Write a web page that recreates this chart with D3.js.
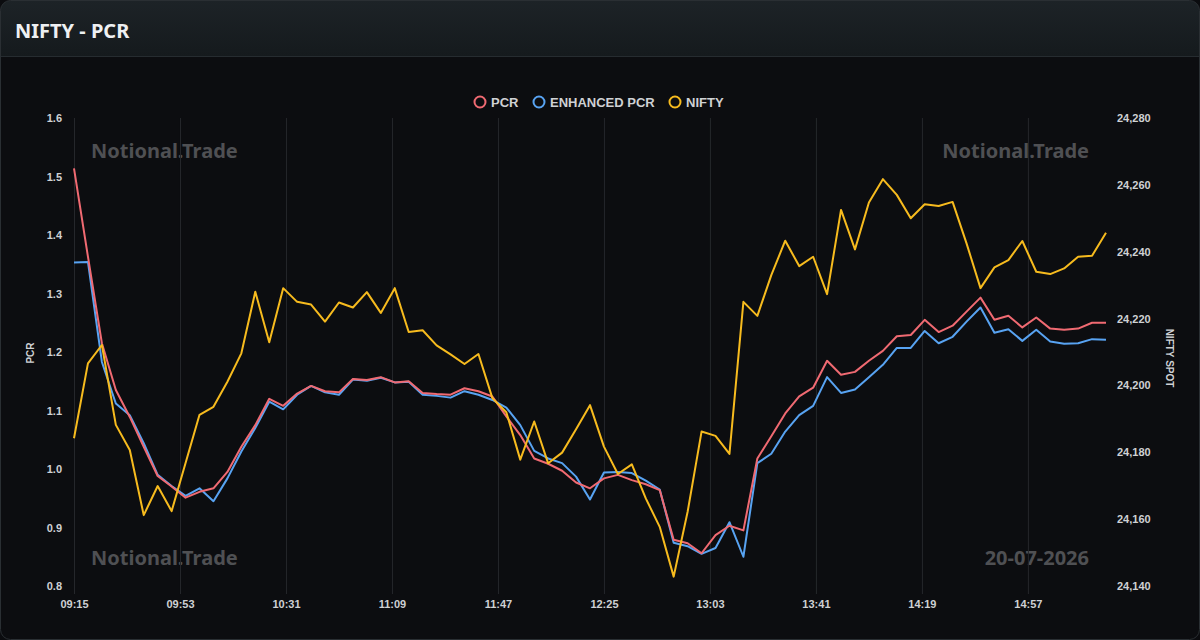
<!DOCTYPE html>
<html>
<head>
<meta charset="utf-8">
<script src="https://cdn.jsdelivr.net/npm/d3@7/dist/d3.min.js"></script>
<style>
  html, body { margin: 0; padding: 0; background: #0b0c0f; }
  svg { display: block; }
</style>
</head>
<body>
<script>
// times every 5 minutes, 09:15 -> 15:25
var times = ["09:15","09:20","09:25","09:30","09:35","09:40","09:45","09:50","09:55","10:00",
  "10:05","10:10","10:15","10:20","10:25","10:30","10:35","10:40","10:45","10:50",
  "10:55","11:00","11:05","11:10","11:15","11:20","11:25","11:30","11:35","11:40",
  "11:45","11:50","11:55","12:00","12:05","12:10","12:15","12:20","12:25","12:30",
  "12:35","12:40","12:45","12:50","12:55","13:00","13:05","13:10","13:15","13:20",
  "13:25","13:30","13:35","13:40","13:45","13:50","13:55","14:00","14:05","14:10",
  "14:15","14:20","14:25","14:30","14:35","14:40","14:45","14:50","14:55","15:00",
  "15:05","15:10","15:15","15:20","15:25"];

var pcr = [1.514,1.363,1.215,1.135,1.089,1.038,0.988,0.970,0.951,0.961,
  0.967,0.995,1.038,1.075,1.120,1.108,1.129,1.142,1.133,1.131,
  1.154,1.152,1.157,1.148,1.150,1.130,1.128,1.127,1.138,1.133,
  1.124,1.090,1.058,1.018,1.009,0.997,0.977,0.967,0.984,0.990,
  0.981,0.974,0.964,0.879,0.873,0.856,0.887,0.903,0.895,1.018,
  1.056,1.095,1.124,1.139,1.185,1.161,1.166,1.185,1.202,1.227,
  1.229,1.255,1.234,1.245,1.269,1.293,1.255,1.262,1.242,1.259,
  1.240,1.238,1.240,1.250,1.250];

var enhancedPcr = [1.353,1.354,1.183,1.112,1.092,1.044,0.990,0.971,0.954,0.967,
  0.945,0.984,1.030,1.070,1.115,1.102,1.127,1.142,1.131,1.127,
  1.153,1.151,1.156,1.148,1.149,1.127,1.125,1.122,1.133,1.127,
  1.118,1.105,1.075,1.031,1.018,1.010,0.987,0.948,0.994,0.995,
  0.993,0.980,0.965,0.874,0.868,0.855,0.865,0.909,0.850,1.010,
  1.026,1.064,1.092,1.108,1.157,1.130,1.136,1.157,1.178,1.207,
  1.207,1.236,1.215,1.226,1.252,1.276,1.233,1.239,1.219,1.238,
  1.218,1.214,1.215,1.222,1.221];

var nifty = [24184.2,24206.6,24212.1,24188.2,24180.7,24161.2,24169.9,24162.4,24176.8,24191.2,
  24193.6,24201.1,24209.6,24228.0,24212.9,24229.1,24225.0,24224.2,24219.1,24224.8,
  24223.3,24227.9,24221.7,24229.1,24216.0,24216.5,24212.0,24209.3,24206.4,24209.4,
  24196.2,24192.0,24177.8,24189.2,24176.7,24179.9,24186.9,24194.1,24181.7,24173.5,
  24176.4,24166.2,24157.7,24142.8,24162.2,24186.2,24184.9,24179.5,24225.0,24220.8,
  24233.0,24243.3,24235.7,24238.5,24227.3,24252.5,24240.7,24254.7,24261.7,24257.0,
  24250.0,24254.2,24253.7,24254.9,24242.5,24229.1,24235.3,24237.5,24243.2,24234.0,
  24233.3,24235.0,24238.5,24238.8,24245.7];

var xTicks = ["09:15","09:53","10:31","11:09","11:47","12:25","13:03","13:41","14:19","14:57"];
var pcrTicks = [0.8,0.9,1.0,1.1,1.2,1.3,1.4,1.5,1.6];
var niftyTicks = [24140,24160,24180,24200,24220,24240,24260,24280];

var seriesNames = ["PCR","ENHANCED PCR","NIFTY"];
var seriesColors = ["#f06a72","#58a3f2","#f7bb1e"];

var width = 1200, height = 640;
var plotL = 74, plotR = 1106, plotT = 118, plotB = 586;

var svg = d3.select("body").append("svg")
    .attr("width", width).attr("height", height);

var defs = svg.append("defs");
var grad = defs.append("linearGradient").attr("id", "hdr")
    .attr("x1", 0).attr("y1", 0).attr("x2", 0).attr("y2", 1);
grad.append("stop").attr("offset", "0%").attr("stop-color", "#1d2327");
grad.append("stop").attr("offset", "100%").attr("stop-color", "#151a1d");
defs.append("clipPath").attr("id", "card")
  .append("rect").attr("x", 0.5).attr("y", 0.5).attr("width", width - 1).attr("height", height - 1).attr("rx", 10);

// card
var card = svg.append("g").attr("clip-path", "url(#card)");
card.append("rect").attr("width", width).attr("height", height).attr("fill", "#0c0d10");
card.append("rect").attr("width", width).attr("height", 56).attr("fill", "url(#hdr)");
card.append("line").attr("x1", 0).attr("x2", width).attr("y1", 56.5).attr("y2", 56.5)
    .attr("stroke", "#262c30");
svg.append("rect").attr("x", 0.5).attr("y", 0.5).attr("width", width - 1).attr("height", height - 1)
    .attr("rx", 10).attr("fill", "none").attr("stroke", "#2a2f33");

svg.append("text").attr("x", 15).attr("y", 38)
    .attr("font-family", "'Noto Sans', sans-serif").attr("font-weight", 700)
    .attr("font-size", 20).attr("fill", "#eef0f2").text("NIFTY - PCR");

var parse = d3.timeParse("%H:%M");
var fmt = d3.timeFormat("%H:%M");
var tx = times.map(parse);

var xScale = d3.scaleTime().domain([tx[0], tx[tx.length - 1]]).range([plotL, plotR]);
var yScale = d3.scaleLinear().domain([0.8, 1.6]).range([plotB, plotT]);
var y2Scale = d3.scaleLinear().domain([24140, 24280]).range([plotB, plotT]);

// watermarks
var wm = svg.append("g").attr("font-family", "'Noto Sans', sans-serif").attr("font-weight", 700)
    .attr("font-size", 20).attr("fill", "#4f5053");
wm.append("text").attr("x", 91).attr("y", 158).text("Notional.Trade");
wm.append("text").attr("x", 1089).attr("y", 158).attr("text-anchor", "end").text("Notional.Trade");
wm.append("text").attr("x", 91).attr("y", 565).text("Notional.Trade");
wm.append("text").attr("x", 1089).attr("y", 565).attr("text-anchor", "end").text("20-07-2026");

// x axis with vertical grid
var xAxis = d3.axisBottom(xScale).tickValues(xTicks.map(parse)).tickFormat(fmt)
    .tickSize(-(plotB - plotT) - 8).tickPadding(6);
var gx = svg.append("g").attr("transform", "translate(0," + (plotB + 8) + ")").call(xAxis);
gx.select(".domain").remove();
gx.selectAll("line").attr("stroke", "#25272b");
gx.selectAll("text").attr("fill", "#cfd1d4").attr("font-family", "'Liberation Sans', Arial, sans-serif")
    .attr("font-weight", 700).attr("font-size", 11);

var yAxis = d3.axisLeft(yScale).tickValues(pcrTicks).tickFormat(d3.format(".1f")).tickSize(0).tickPadding(12);
var gy = svg.append("g").attr("transform", "translate(" + plotL + ",0)").call(yAxis);
gy.select(".domain").remove();
gy.selectAll("text").attr("fill", "#cfd1d4").attr("font-family", "'Liberation Sans', Arial, sans-serif")
    .attr("font-weight", 700).attr("font-size", 11);

var y2Axis = d3.axisRight(y2Scale).tickValues(niftyTicks).tickFormat(d3.format(",")).tickSize(0).tickPadding(11);
var gy2 = svg.append("g").attr("transform", "translate(" + plotR + ",0)").call(y2Axis);
gy2.select(".domain").remove();
gy2.selectAll("text").attr("fill", "#cfd1d4").attr("font-family", "'Liberation Sans', Arial, sans-serif")
    .attr("font-weight", 700).attr("font-size", 11);

// axis titles
svg.append("text").attr("transform", "translate(34,353) rotate(-90)").attr("text-anchor", "middle")
    .attr("font-family", "'Liberation Sans', Arial, sans-serif").attr("font-weight", 700)
    .attr("font-size", 10).attr("fill", "#cfd1d4").text("PCR");
svg.append("text").attr("transform", "translate(1166,358) rotate(90)").attr("text-anchor", "middle")
    .attr("font-family", "'Liberation Sans', Arial, sans-serif").attr("font-weight", 700)
    .attr("font-size", 10).attr("fill", "#cfd1d4").text("NIFTY SPOT");

// lines
var linePcr = d3.line().x(function (d, i) { return xScale(tx[i]); }).y(function (d) { return yScale(d); });
var lineNifty = d3.line().x(function (d, i) { return xScale(tx[i]); }).y(function (d) { return y2Scale(d); });

svg.append("path").attr("d", linePcr(enhancedPcr)).attr("fill", "none")
    .attr("stroke", seriesColors[1]).attr("stroke-width", 2).attr("stroke-linejoin", "round");
svg.append("path").attr("d", linePcr(pcr)).attr("fill", "none")
    .attr("stroke", seriesColors[0]).attr("stroke-width", 2).attr("stroke-linejoin", "round");
svg.append("path").attr("d", lineNifty(nifty)).attr("fill", "none")
    .attr("stroke", seriesColors[2]).attr("stroke-width", 2).attr("stroke-linejoin", "round");

// legend
var legendX = [480, 539, 675];
var lg = svg.append("g").attr("font-family", "'Liberation Sans', Arial, sans-serif")
    .attr("font-weight", 700).attr("font-size", 13);
seriesNames.forEach(function (name, i) {
  lg.append("circle").attr("cx", legendX[i]).attr("cy", 102).attr("r", 5.5)
      .attr("fill", "none").attr("stroke", seriesColors[i]).attr("stroke-width", 2);
  lg.append("text").attr("x", legendX[i] + 11).attr("y", 106.5).attr("fill", "#cfd1d4").text(name);
});
</script>
</body>
</html>
